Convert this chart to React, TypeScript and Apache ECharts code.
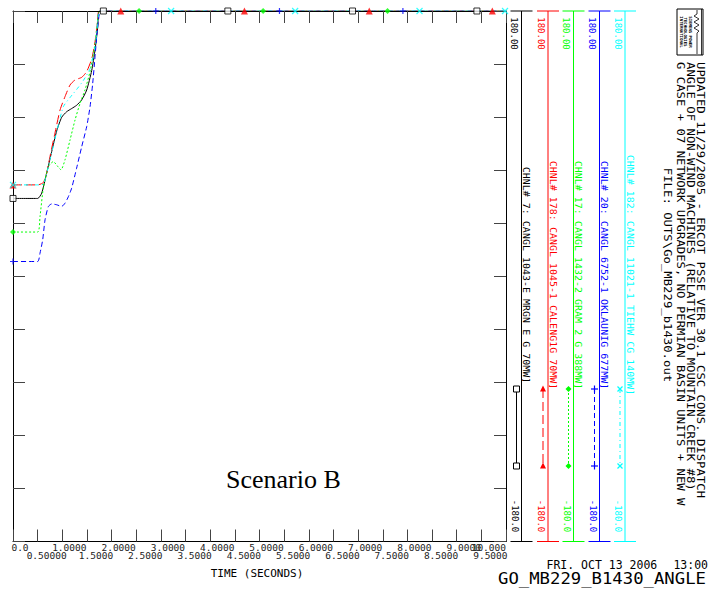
import React, { useEffect, useRef } from 'react';
import * as echarts from 'echarts';

// ---------- data (time in seconds, angle in degrees) ----------
const tBlack = [0, 0.5, 0.582, 0.683, 0.785, 0.886, 0.988, 1.09, 1.19, 1.29, 1.394, 1.495, 1.596, 1.664, 1.72, 1.752, 10];
const vBlack = [52.8, 52.8, 56.4, 70, 84.6, 98.6, 107.9, 111.7, 113.8, 116, 119.7, 126.4, 139.5, 153.5, 169.4, 180, 180];

const tRed = [0, 0.5, 0.615, 0.683, 0.75, 0.85, 0.955, 1.055, 1.157, 1.258, 1.394, 1.495, 1.6, 1.664, 1.72, 1.745, 10];
const vRed = [62, 62, 63.6, 70, 81.2, 97, 112.9, 121.9, 129.8, 133.2, 135, 138.9, 147.9, 159.2, 173.9, 180, 180];

const tGreen = [0, 0.5, 0.548, 0.615, 0.717, 0.818, 0.92, 0.974, 1.055, 1.157, 1.258, 1.36, 1.46, 1.563, 1.664, 1.73, 1.755, 10];
const vGreen = [30, 30, 40.6, 59.8, 74.4, 77.8, 74, 72.2, 79, 92.5, 106, 117.4, 126.4, 138.9, 158, 177.3, 180, 180];

const tBlue = [0, 0.5, 0.548, 0.602, 0.65, 0.717, 0.785, 0.886, 0.988, 1.055, 1.123, 1.19, 1.29, 1.394, 1.495, 1.563, 1.617, 1.664, 1.71, 1.752, 1.77, 10];
const vBlue = [10, 10, 15.7, 24.7, 38.3, 47.3, 49.1, 48.5, 47.4, 49.6, 54, 59.8, 73.3, 88, 101.6, 115.1, 131, 149, 167.1, 178.4, 180, 180];

const tCyan = [0, 0.5, 0.615, 0.75, 0.886, 1.02, 1.157, 1.29, 1.43, 1.564, 1.664, 1.73, 1.75, 10];
const vCyan = [62, 62, 62.5, 79, 98, 115, 121.3, 126.7, 133, 141, 155.6, 177, 180, 180];

// curve markers [time, value]
const mkBlack = [[0, 52.8], [1.833, 180], [4.358, 180], [6.887, 180], [9.41, 180]];
const mkRed = [[0, 62], [2.186, 180], [4.695, 180], [7.226, 180], [9.722, 180]];
const mkGreen = [[0, 30], [2.557, 180], [5.074, 180], [7.597, 180]];
const mkBlue = [[0, 10], [2.896, 180], [5.405, 180], [7.909, 180]];
const mkCyan = [[0, 62], [3.207, 180], [5.723, 180], [8.246, 180], [9.98, 180]];

const channelLabels = [
  'CHNL# 7: CANGL 1043-E MRGN E G 70MW]',
  'CHNL# 178: CANGL 1045-1 CALENG1G 70MW]',
  'CHNL# 17: CANGL 1432-2 GRAM 2 G 388MW]',
  'CHNL# 20: CANGL 6752-1 OKLAUNIG 677MW]',
  'CHNL# 182: CANGL 11021-1 TIEHW CG 140MW]',
];
const channelMax = ['180.00', '180.00', '180.00', '180.00', '180.00'];
const channelMin = ['-180.0', '-180.0', '-180.0', '-180.0', '-180.0'];

const titleLines = [
  'UPDATED 11/29/2005 - ERCOT PSSE VER 30.1 CSC CONS. DISPATCH',
  'ANGLE OF NON-WIND MACHINES (RELATIVE TO MOUNTAIN CREEK #8)',
  'G CASE + 07 NETWORK UPGRADES, NO PERMIAN BASIN UNITS + NEW W',
];
const fileLine = 'FILE: OUTS\\Go_MB229_b1430.out';

// ---------- styles ----------
const COLORS = ['#000000', '#ff0000', '#00ff00', '#0000ff', '#00ffff'];
const DASH: any[] = ['solid', [9, 4], [2, 2], [5, 3], [4, 3, 1, 3]];
const MONO = 'DejaVu Sans Mono';
const PLUS = 'path://M0,5L10,5M5,0L5,10';
const CROSS = 'path://M0,0L10,10M10,0L0,10';

const pair = (t: number[], v: number[]) => t.map((x, i) => [x, v[i]]);
const isInt = (v: number) => Math.abs(v - Math.round(v)) < 1e-6;

function legendMarker(i: number, x: number, y: number): any {
  const c = COLORS[i];
  if (i === 0) return { type: 'rect', shape: { x: x - 3, y: y - 3, width: 6, height: 6 }, style: { fill: '#fff', stroke: c, lineWidth: 1 }, z: 20 };
  if (i === 1) return { type: 'polygon', shape: { points: [[x, y - 3.5], [x - 3, y + 2.5], [x + 3, y + 2.5]] }, style: { fill: c }, z: 20 };
  if (i === 2) return { type: 'polygon', shape: { points: [[x, y - 3], [x + 3, y], [x, y + 3], [x - 3, y]] }, style: { fill: c }, z: 20 };
  if (i === 3) return { type: 'group', z: 20, children: [
    { type: 'line', shape: { x1: x - 3.5, y1: y, x2: x + 3.5, y2: y }, style: { stroke: c, lineWidth: 1.2 } },
    { type: 'line', shape: { x1: x, y1: y - 3.5, x2: x, y2: y + 3.5 }, style: { stroke: c, lineWidth: 1.2 } },
  ] };
  return { type: 'group', z: 20, children: [
    { type: 'line', shape: { x1: x - 2.5, y1: y - 2.5, x2: x + 2.5, y2: y + 2.5 }, style: { stroke: c, lineWidth: 1.2 } },
    { type: 'line', shape: { x1: x + 2.5, y1: y - 2.5, x2: x - 2.5, y2: y + 2.5 }, style: { stroke: c, lineWidth: 1.2 } },
  ] };
}

export default function App() {
  const ref = useRef<HTMLDivElement>(null);
  useEffect(() => {
    if (!ref.current) return;
    const chart = echarts.init(ref.current, undefined, { renderer: 'svg' });

    const seriesData = [
      pair(tBlack, vBlack), pair(tRed, vRed), pair(tGreen, vGreen), pair(tBlue, vBlue), pair(tCyan, vCyan),
    ];
    const markers = [mkBlack, mkRed, mkGreen, mkBlue, mkCyan];
    const symbols = ['rect', 'triangle', 'diamond', PLUS, CROSS];

    const series: any[] = [];
    seriesData.forEach((d, i) => {
      series.push({
        type: 'line', data: d, xAxisIndex: 0, yAxisIndex: 0, showSymbol: false, smooth: 0.2,
        lineStyle: { color: COLORS[i], width: 1, type: DASH[i] }, z: 2, silent: true,
      });
    });
    markers.forEach((m, i) => {
      const path = i >= 3;
      series.push({
        type: 'scatter', data: m, xAxisIndex: 0, yAxisIndex: 0, symbol: symbols[i],
        symbolSize: i === 0 ? 6 : i === 1 ? 7 : 6, clip: false, z: 6, silent: true,
        itemStyle: i === 0
          ? { color: '#fff', borderColor: COLORS[i], borderWidth: 1 }
          : path
            ? { color: 'rgba(0,0,0,0)', borderColor: COLORS[i], borderWidth: 1.2 }
            : { color: COLORS[i] },
      });
    });

    // legend strips on the right
    const stripX = [521.5, 548, 573.5, 599.5, 625];
    const graphics: any[] = [];
    stripX.forEach((L, i) => {
      const c = COLORS[i];
      graphics.push({ type: 'line', shape: { x1: L, y1: 11, x2: L, y2: 541.5 }, style: { stroke: c, lineWidth: 1 } });
      graphics.push({ type: 'line', shape: { x1: L - 11, y1: 11, x2: L + 11, y2: 11 }, style: { stroke: c, lineWidth: 1 } });
      graphics.push({ type: 'line', shape: { x1: L - 11, y1: 541.5, x2: L + 11, y2: 541.5 }, style: { stroke: c, lineWidth: 1 } });
      graphics.push({ type: 'text', x: L - 7.5, y: 33.5, rotation: -Math.PI / 2,
        style: { text: channelMax[i], fill: c, font: `9px "${MONO}"`, align: 'center', verticalAlign: 'middle' } });
      graphics.push({ type: 'text', x: L - 7, y: 516, rotation: -Math.PI / 2,
        style: { text: channelMin[i], fill: c, font: `9px "${MONO}"`, align: 'center', verticalAlign: 'middle' } });
      graphics.push({ type: 'text', x: L + 4.5, y: 275, rotation: -Math.PI / 2, scaleX: 1.25,
        style: { text: channelLabels[i], fill: c, font: `8px "${MONO}"`, align: 'center', verticalAlign: 'middle' } });
      graphics.push({ type: 'line', shape: { x1: L - 5, y1: 389, x2: L - 5, y2: 466 },
        style: { stroke: c, lineWidth: 1, lineDash: DASH[i] === 'solid' ? null : DASH[i] } });
      graphics.push(legendMarker(i, L - 5, 389));
      graphics.push(legendMarker(i, L - 5, 466));
    });

    // title block
    const titleX = [700, 690, 680];
    titleLines.forEach((s, i) => {
      graphics.push({ type: 'text', x: titleX[i], y: 62, rotation: -Math.PI / 2, scaleX: 1.23,
        style: { text: s, fill: '#000', font: `10px "${MONO}"`, align: 'left', verticalAlign: 'middle' } });
    });
    graphics.push({ type: 'text', x: 667.5, y: 275, rotation: -Math.PI / 2, scaleX: 1.23,
      style: { text: fileLine, fill: '#000', font: `10px "${MONO}"`, align: 'center', verticalAlign: 'middle' } });

    // logo
    graphics.push({ type: 'rect', shape: { x: 677, y: 9, width: 26, height: 46 }, style: { fill: '#fff', stroke: '#000', lineWidth: 1 } });
    ['SIEMENS POWER', 'TECHNOLOGIES', 'INTERNATIONAL'].forEach((s, i) => {
      graphics.push({ type: 'text', x: 690 - i * 4.5, y: 32, rotation: -Math.PI / 2,
        style: { text: s, fill: '#000', font: `bold 4px "${MONO}"`, align: 'center', verticalAlign: 'middle' } });
    });
    graphics.push({ type: 'polyline', shape: { points: [[697, 10], [697, 14], [694, 16], [699, 19], [694, 22], [699, 25], [694, 28], [699, 31], [697, 33], [697, 54]] },
      style: { stroke: '#000', lineWidth: 0.8, fill: null } });
    graphics.push({ type: 'line', shape: { x1: 701.5, y1: 9, x2: 701.5, y2: 55 }, style: { stroke: '#000', lineWidth: 0.8 } });

    // texts
    graphics.push({ type: 'text', x: 226, y: 479,
      style: { text: 'Scenario B', fill: '#000', font: '26px "Liberation Serif"', align: 'left', verticalAlign: 'middle' } });
    graphics.push({ type: 'text', x: 257, y: 573,
      style: { text: 'TIME (SECONDS)', fill: '#000', font: `11px "${MONO}"`, align: 'center', verticalAlign: 'middle' } });
    graphics.push({ type: 'text', x: 546.5, y: 565,
      style: { text: 'FRI. OCT 13 2006', fill: '#000', font: `11.5px "${MONO}"`, align: 'left', verticalAlign: 'middle' } });
    graphics.push({ type: 'text', x: 708, y: 565,
      style: { text: '13:00', fill: '#000', font: `11.5px "${MONO}"`, align: 'right', verticalAlign: 'middle' } });
    graphics.push({ type: 'text', x: 498, y: 579, scaleX: 1.08,
      style: { text: 'GO_MB229_B1430_ANGLE', fill: '#000', font: `16px "${MONO}"`, align: 'left', verticalAlign: 'middle' } });

    const tickStyle = { color: '#444', width: 1 };
    const axisLine = { show: true, onZero: false, lineStyle: { color: '#000', width: 1 } };

    chart.setOption({
      animation: false,
      backgroundColor: '#fff',
      grid: { left: 13, top: 11, width: 493, height: 530.5, containLabel: false, outerBoundsMode: 'none' } as any,
      xAxis: [
        {
          type: 'value', position: 'bottom', min: 0, max: 10, interval: 0.5, z: 5,
          axisLine, axisTick: { show: true, inside: true, length: 12, lineStyle: tickStyle }, splitLine: { show: false },
          axisLabel: {
            show: true, margin: 1, color: '#222', fontFamily: MONO, fontSize: 9.5, lineHeight: 9,
            padding: [0, 0, 0, 14], alignMaxLabel: 'right',
            formatter: (v: number) => (v === 0 ? '0.0' : v === 10 ? '10.000' : isInt(v) ? v.toFixed(4) : ''),
          },
        },
        {
          type: 'value', position: 'top', min: 0, max: 10, interval: 0.5, z: 5,
          axisLine, axisTick: { show: true, inside: true, length: 12, lineStyle: tickStyle }, splitLine: { show: false },
          axisLabel: { show: false },
        },
        {
          type: 'value', position: 'bottom', min: 0, max: 10, interval: 0.5,
          axisLine: { show: false }, axisTick: { show: false }, splitLine: { show: false },
          axisLabel: {
            show: true, margin: 9.5, color: '#222', fontFamily: MONO, fontSize: 9.5, lineHeight: 9,
            padding: [0, 0, 0, 18],
            formatter: (v: number) => (isInt(v) ? '' : v === 0.5 ? '0.50000' : v.toFixed(4)),
          },
        },
      ],
      yAxis: [
        {
          type: 'value', position: 'left', min: -180, max: 180, interval: 36, z: 5,
          axisLine, axisTick: { show: true, inside: true, length: 12, lineStyle: tickStyle },
          splitLine: { show: false }, axisLabel: { show: false },
        },
        {
          type: 'value', position: 'right', min: -180, max: 180, interval: 36, z: 5,
          axisLine, axisTick: { show: true, inside: true, length: 12, lineStyle: tickStyle },
          splitLine: { show: false }, axisLabel: { show: false },
        },
      ],
      series,
      graphic: graphics,
    });
    return () => chart.dispose();
  }, []);
  return <div ref={ref} style={{ position: 'fixed', left: 0, top: 0, width: 709, height: 590, background: '#fff' }} />;
}
